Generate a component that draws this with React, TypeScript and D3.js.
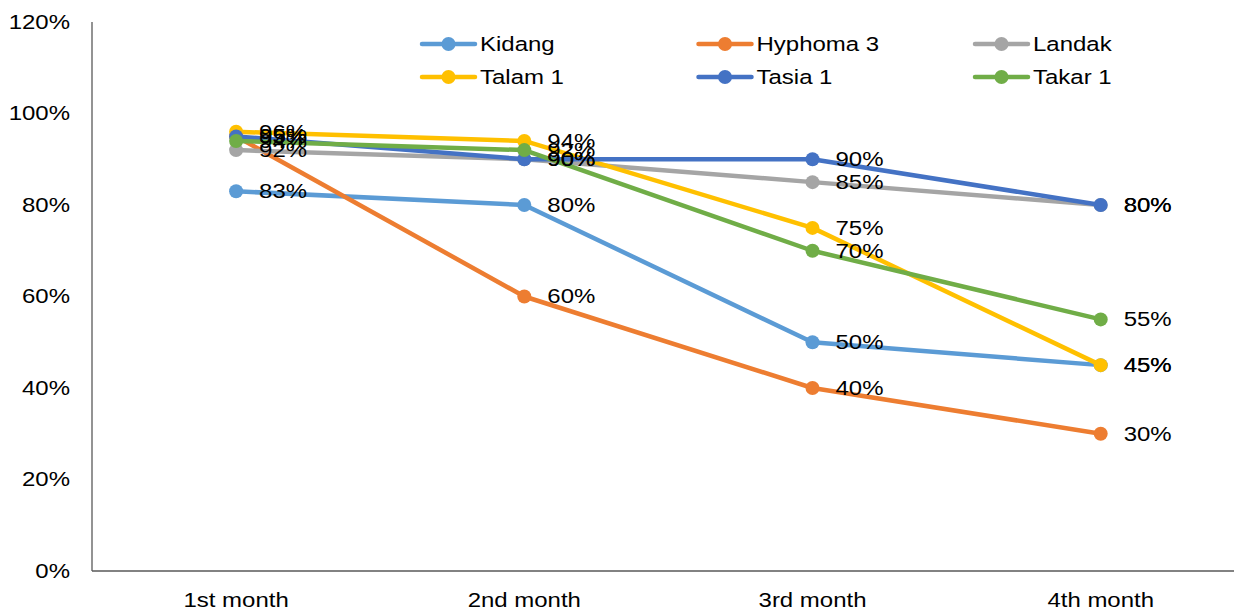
import React from "react";
import * as d3 from "d3";

const months = ["1st month", "2nd month", "3rd month", "4th month"];
const seriesNames = ["Kidang", "Hyphoma 3", "Landak", "Talam 1", "Tasia 1", "Takar 1"];
const seriesColors = ["#5B9BD5", "#ED7D31", "#A5A5A5", "#FFC000", "#4472C4", "#70AD47"];
const kidang = [0.83, 0.8, 0.5, 0.45];
const hyphoma3 = [0.95, 0.6, 0.4, 0.3];
const landak = [0.92, 0.9, 0.85, 0.8];
const talam1 = [0.96, 0.94, 0.75, 0.45];
const tasia1 = [0.95, 0.9, 0.9, 0.8];
const takar1 = [0.94, 0.92, 0.7, 0.55];
const yTicks = [0, 0.2, 0.4, 0.6, 0.8, 1.0, 1.2];

const W = 1234;
const H = 610;
const left = 92;
const top = 22;
const bottom = 571;
const bandW = 288.2;
const FS = 20.5;
const SX = 1.17;
const R = 7;

type LabelProps = {
  x: number;
  y: number;
  anchor?: "start" | "middle" | "end";
  children: React.ReactNode;
};

// Text drawn slightly wide, as the chart's typeface renders
function Label({ x, y, anchor = "start", children }: LabelProps) {
  return (
    <g transform={`translate(${x},${y}) scale(${SX},1)`}>
      <text x={0} y={0} textAnchor={anchor} dominantBaseline="central" fontSize={FS} fill="#000">
        {children}
      </text>
    </g>
  );
}

export default function App() {
  const allSeries = [kidang, hyphoma3, landak, talam1, tasia1, takar1];
  const x = d3
    .scaleBand<string>()
    .domain(months)
    .range([left, left + bandW * months.length]);
  const y = d3.scaleLinear().domain([0, 1.2]).range([bottom, top]);
  const cx = (m: string) => (x(m) as number) + x.bandwidth() / 2;
  const line = d3
    .line<number>()
    .x((_, i) => cx(months[i]))
    .y((v) => y(v));
  const fmt = d3.format(".0%");
  const font = "'Liberation Sans', Arial, sans-serif";

  return (
    <div style={{ position: "absolute", left: 0, top: 0 }}>
      <svg width={W} height={H} style={{ display: "block", background: "#fff" }} fontFamily={font}>
        {/* axes */}
        <line x1={left} x2={left} y1={top} y2={bottom} stroke="#595959" strokeWidth={1.3} />
        <line x1={left} x2={W} y1={bottom} y2={bottom} stroke="#595959" strokeWidth={1.3} />
        {yTicks.map((t) => (
          <Label key={t} x={70} y={y(t)} anchor="end">
            {fmt(t)}
          </Label>
        ))}
        {months.map((m) => (
          <Label key={m} x={cx(m)} y={600} anchor="middle">
            {m}
          </Label>
        ))}
        {/* series lines and markers */}
        {allSeries.map((s, si) => (
          <g key={seriesNames[si]}>
            <path d={line(s) || ""} fill="none" stroke={seriesColors[si]} strokeWidth={4.5} strokeLinejoin="round" />
            {s.map((v, i) => (
              <circle key={i} cx={cx(months[i])} cy={y(v)} r={R} fill={seriesColors[si]} />
            ))}
          </g>
        ))}
        {/* data labels */}
        {allSeries.map((s, si) => (
          <g key={"lab" + si}>
            {s.map((v, i) => (
              <Label key={i} x={cx(months[i]) + 23} y={y(v)}>
                {fmt(v)}
              </Label>
            ))}
          </g>
        ))}
        {/* legend */}
        {seriesNames.map((n, i) => {
          const col = i % 3;
          const row = Math.floor(i / 3);
          const lx = 422 + col * 276.5;
          const ly = 44 + row * 33;
          return (
            <g key={n}>
              <line x1={lx} x2={lx + 53} y1={ly} y2={ly} stroke={seriesColors[i]} strokeWidth={4.5} strokeLinecap="round" />
              <circle cx={lx + 26.5} cy={ly} r={R} fill={seriesColors[i]} />
              <Label x={lx + 58} y={ly}>
                {n}
              </Label>
            </g>
          );
        })}
      </svg>
    </div>
  );
}
